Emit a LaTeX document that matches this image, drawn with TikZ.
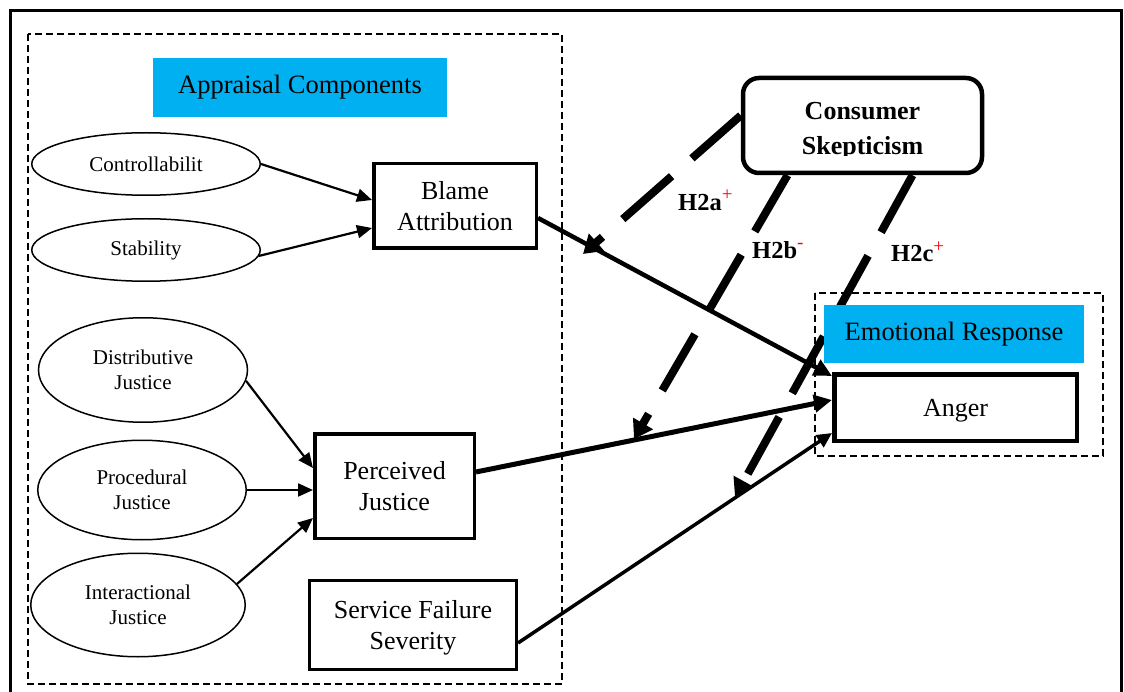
\documentclass[tikz,border=0pt]{standalone}
\usepackage{fontspec}
\setmainfont{Liberation Serif}
\usetikzlibrary{arrows.meta,shapes.geometric,calc}
\definecolor{bannercyan}{HTML}{00B0F0}
\pgfdeclarelayer{links}
\pgfsetlayers{links,main}

\begin{document}
\begin{tikzpicture}[x=1pt,y=-1pt,
  construct/.style={ellipse,draw,line width=1.5pt,fill=white,inner sep=0pt,align=center,
    font=\fontsize{21}{25}\selectfont},
  varbox/.style={rectangle,draw,line width=3.5pt,fill=white,inner sep=0pt,align=center,
    font=\fontsize{26}{31.5}\selectfont},
  banner/.style={rectangle,fill=bannercyan,inner sep=0pt,font=\fontsize{26.5}{31}\selectfont},
  groupline/.style={draw,line width=1.8pt,dash pattern=on 7pt off 4pt},
  thinlink/.style={line width=2.2pt,-{Triangle[length=15pt,width=13pt]}},
  thicklink/.style={line width=4.5pt,-{Triangle[length=18pt,width=17pt]}},
  modline/.style={line width=8pt,dash pattern=on 65pt off 27pt,-{Triangle[length=18pt,width=22pt]}},
  hyp/.style={anchor=base west,inner sep=0pt,font=\bfseries\fontsize{24.5}{28}\selectfont},
  sign/.style={font=\fontsize{19}{19}\selectfont\mdseries,text=red,inner sep=0pt,anchor=base}
]
\useasboundingbox (0,0) rectangle (1124,692);

% outer frame and the two groups
\draw[line width=3pt] (10,11) rectangle (1121,720);
\draw[groupline] (28,34) rectangle (562,684);
\draw[groupline] (815,293) rectangle (1103,456);

% group headings
\node[banner,minimum width=294pt,minimum height=59pt] (appraisal) at (300,87.5) {Appraisal Components};
\node[banner,minimum width=260pt,minimum height=58pt] (emotional) at (954,334) {Emotional Response};

% appraisal components
\node[construct,minimum width=228.5pt,minimum height=62.5pt] (ctrl) at (146,164) {Controllabilit};
\node[construct,minimum width=228.5pt,minimum height=62.5pt] (stab) at (146,250) {Stability};
\node[construct,minimum width=209pt,minimum height=104.5pt] (dist) at (143,370) {Distributive\\Justice};
\node[construct,minimum width=208.5pt,minimum height=99.5pt] (proc) at (142,490) {Procedural\\Justice};
\node[construct,minimum width=214.5pt,minimum height=103.5pt] (inter) at (138,605) {Interactional\\Justice};

% mediating and outcome variables
\node[varbox,minimum width=162.5pt,minimum height=84.5pt] (blame) at (455,206) {Blame\\Attribution};
\node[varbox,minimum width=159.5pt,minimum height=104.5pt] (pj) at (394.5,486) {Perceived\\Justice};
\node[varbox,line width=3pt,minimum width=207pt,minimum height=89pt] (sfs) at (413,625)
  {\raisebox{-3pt}[\height][\depth]{\parbox{200pt}{\centering Service Failure\\Severity}}};
\node[varbox,line width=4.5pt,minimum width=242.5pt,minimum height=66.5pt] (anger) at (955.5,407.5)
  {\raisebox{-3pt}[\height][\depth]{Anger}};

% moderator
\node[rectangle,draw,line width=4.5pt,rounded corners=16pt,fill=white,
  minimum width=239pt,minimum height=95pt] (cs) at (862.5,125.5) {};
\begin{scope}
  \clip (741,70) rectangle (984,156);
  \node[inner sep=0pt,anchor=base,align=center,font=\bfseries\fontsize{26}{35}\selectfont] (cstext) at (862.5,155) {Consumer\\Skepticism};
\end{scope}

% hypothesis labels
\node[hyp] (h2a) at (678,211) {H2a\raisebox{10pt}{\tikz[baseline]\node[sign] {+};}};
\node[hyp] (h2b) at (752,259) {H2b\raisebox{10pt}{\tikz[baseline]\node[sign] {-};}};
\node[hyp] (h2c) at (891,262) {H2c\raisebox{9pt}{\tikz[baseline]\node[sign] {+};}};

% end points of the moderating effects on the paths
\coordinate (h2a-tip) at (583,254);
\coordinate (h2b-tip) at (634,439);
\coordinate (h2c-tip) at (735,497);

\begin{pgfonlayer}{links}
  \draw[thinlink] (ctrl.east) -- ([yshift=6pt]blame.west);
  \draw[thinlink] (stab.-3) -- ([yshift=-22pt]blame.west);
  \draw[thinlink] (dist.-6) -- ([yshift=18pt]pj.west);
  \draw[thinlink] (proc.east) -- ([yshift=-4pt]pj.west);
  \draw[thinlink] (inter.12) -- ([yshift=-32pt]pj.west);

  \draw[thicklink] ([yshift=-12pt]blame.east) -- ([yshift=31.5pt]anger.west);
  \draw[thicklink,line width=5pt] ([yshift=14pt]pj.east) -- ([yshift=7.5pt]anger.west);
  \draw[thicklink,line width=3.5pt,-{Triangle[length=15pt,width=14pt]}] ([yshift=-18pt]sfs.east) -- ([yshift=-25.5pt]anger.west);

  \draw[modline] ([yshift=10pt]cs.west) -- (h2a-tip);
  \draw[modline] ([xshift=-75pt]cs.south) -- (h2b-tip);
  \draw[modline] ([xshift=50pt]cs.south) -- (h2c-tip);
\end{pgfonlayer}
\end{tikzpicture}
\end{document}
